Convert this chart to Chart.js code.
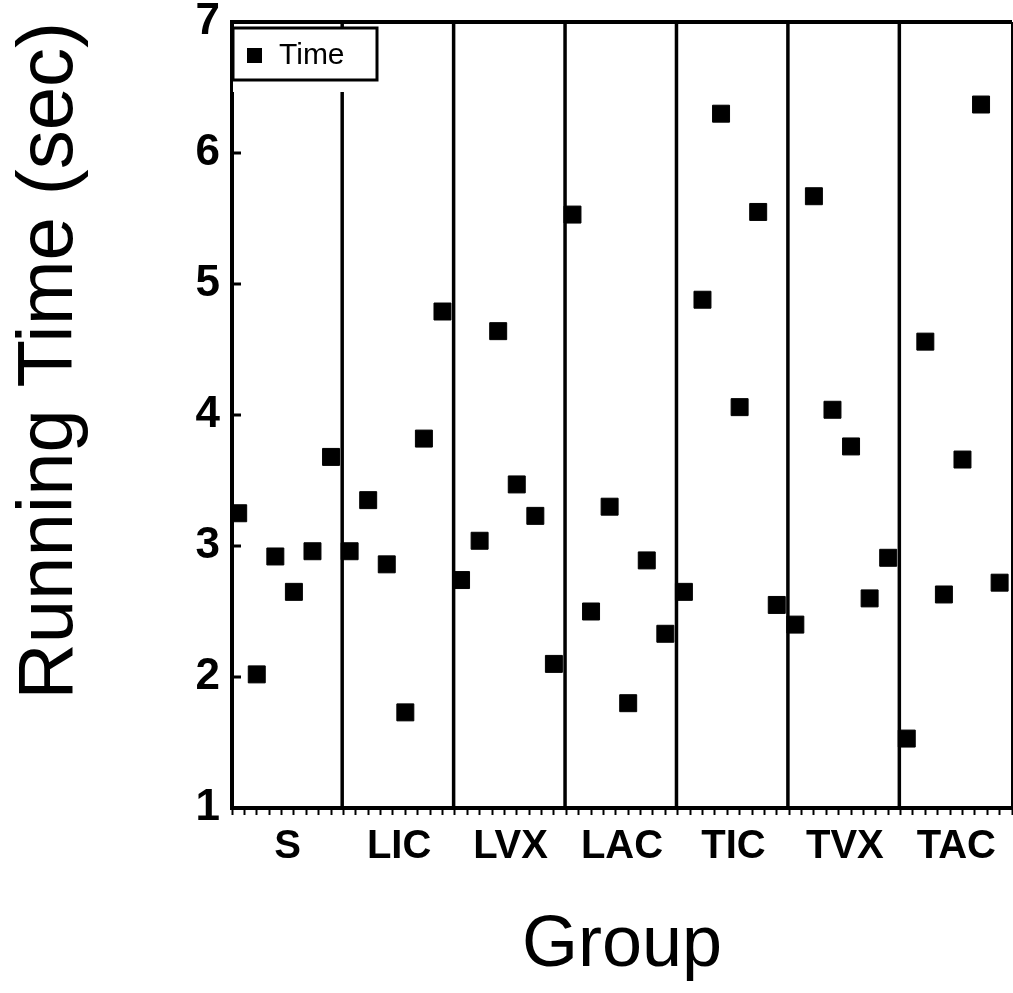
<!DOCTYPE html>
<html>
<head>
<meta charset="utf-8">
<script src="https://cdn.jsdelivr.net/npm/chart.js@4"></script>
<style>
  body { margin: 0; background: #fff; }
</style>
</head>
<body>
<canvas id="myChart" width="1013" height="993"></canvas>
<script>
const groups = ['S', 'LIC', 'LVX', 'LAC', 'TIC', 'TVX', 'TAC'];

// running time (sec) for each animal, by group
const timeS   = [3.25, 2.02, 2.92, 2.65, 2.96, 3.68];
const timeLIC = [2.96, 3.35, 2.86, 1.73, 3.82, 4.79];
const timeLVX = [2.74, 3.04, 4.64, 3.47, 3.23, 2.10];
const timeLAC = [5.53, 2.50, 3.30, 1.80, 2.89, 2.33];
const timeTIC = [2.65, 4.88, 6.30, 4.06, 5.55, 2.55];
const timeTVX = [2.40, 5.67, 4.04, 3.76, 2.60, 2.91];
const timeTAC = [1.53, 4.56, 2.63, 3.66, 6.37, 2.72];

const yTicks = [1, 2, 3, 4, 5, 6, 7];

const allTimes = [timeS, timeLIC, timeLVX, timeLAC, timeTIC, timeTVX, timeTAC];

// each group takes 9 units on the x axis, 6 animals 1.5 apart
const points = [];
allTimes.forEach((arr, g) => {
    arr.forEach((t, i) => points.push({ x: g * 9 + 0.5 + 1.5 * i, y: t }));
});

const labelPos = groups.map((g, i) => i * 9 + 4.5);
const isLabel = v => labelPos.some(p => Math.abs(p - v) < 0.01);

const framePlugin = {
    id: 'frame',
    beforeDatasetsDraw(chart) {
        const { ctx, chartArea: a, scales } = chart;
        ctx.save();
        ctx.strokeStyle = '#000';
        // group dividers
        ctx.lineWidth = 3.5;
        for (let g = 1; g < groups.length; g++) {
            const px = scales.x.getPixelForValue(g * 9 - 0.1);
            ctx.beginPath();
            ctx.moveTo(px, a.top);
            ctx.lineTo(px, a.bottom);
            ctx.stroke();
        }
        // top and right edges
        ctx.lineWidth = 4;
        ctx.beginPath();
        ctx.moveTo(a.left, a.top);
        ctx.lineTo(a.right, a.top);
        ctx.stroke();
        ctx.lineWidth = 2;
        ctx.beginPath();
        ctx.moveTo(a.right, a.top);
        ctx.lineTo(a.right, a.bottom);
        ctx.stroke();
        // inward y ticks
        ctx.lineWidth = 3;
        yTicks.forEach(v => {
            const py = scales.y.getPixelForValue(v);
            ctx.beginPath();
            ctx.moveTo(a.left, py);
            ctx.lineTo(a.left + 9, py);
            ctx.stroke();
        });
        ctx.restore();
    },
    afterDraw(chart) {
        const { ctx, chartArea: a } = chart;
        ctx.save();
        const bx = a.left + 1, by = a.top + 6, bw = 144, bh = 52;
        ctx.fillStyle = '#fff';
        ctx.fillRect(bx, by, bw, bh + 12);
        ctx.strokeStyle = '#000';
        ctx.lineWidth = 3;
        ctx.strokeRect(bx, by, bw, bh);
        ctx.fillStyle = '#000';
        ctx.fillRect(bx + 14, by + 20, 15, 15);
        ctx.font = '30px "Liberation Sans", Arial, sans-serif';
        ctx.textBaseline = 'middle';
        ctx.fillText('Time', bx + 46, by + 28);
        ctx.restore();
    }
};

const data = {
    datasets: [
    {
        label: 'Time',
        data: points,
        backgroundColor: '#000',
        borderColor: '#000',
        pointStyle: 'rect',
        pointRadius: 12,
        showLine: false
    }
]
};

const config = {
    type: 'scatter',
    data: data,
    options: {
        responsive: false,
        animation: false,
        layout: { autoPadding: false, padding: { top: 22, right: 1, left: 0, bottom: 0 } },
        plugins: {
            legend: { display: false },
            tooltip: { enabled: false }
        },
        scales: {
            x: {
                type: 'linear',
                min: 0,
                max: 63,
                afterFit: s => {
                    s.height = 185;
                    s.paddingLeft = 0;
                    s.paddingRight = 0;
                },
                afterBuildTicks: s => {
                    const vals = [];
                    for (let v = 0; v <= 63; v++) vals.push(v);
                    labelPos.forEach(p => vals.push(p));
                    vals.sort((p, q) => p - q);
                    s.ticks = vals.map(v => ({ value: v }));
                },
                ticks: {
                    autoSkip: false,
                    maxRotation: 0,
                    color: '#000',
                    padding: 8,
                    font: { family: '"Liberation Sans", Arial, sans-serif', size: 40, weight: 'bold' },
                    callback: v => {
                        const i = labelPos.findIndex(p => Math.abs(p - v) < 0.01);
                        return i >= 0 ? groups[i] : '';
                    }
                },
                grid: {
                    drawOnChartArea: false,
                    drawTicks: true,
                    tickLength: 7,
                    tickWidth: 2,
                    tickColor: c => (c.tick && isLabel(c.tick.value)) ? 'rgba(0,0,0,0)' : '#000'
                },
                border: { color: '#000', width: 4 },
                title: {
                    display: true,
                    text: 'Group',
                    color: '#000',
                    font: { family: '"Liberation Sans", Arial, sans-serif', size: 72 },
                    padding: { top: 10 }
                }
            },
            y: {
                min: 1,
                max: 7,
                afterFit: s => {
                    s.width = 232;
                    s.paddingTop = 0;
                    s.paddingBottom = 0;
                },
                afterBuildTicks: s => { s.ticks = yTicks.map(v => ({ value: v })); },
                ticks: {
                    color: '#000',
                    padding: 12,
                    font: { family: '"Liberation Sans", Arial, sans-serif', size: 44, weight: 'bold' }
                },
                grid: { drawOnChartArea: false, drawTicks: false },
                border: { color: '#000', width: 4 },
                title: {
                    display: true,
                    text: 'Running Time (sec)',
                    align: 'end',
                    color: '#000',
                    font: { family: '"Liberation Sans", Arial, sans-serif', size: 78 },
                    padding: { top: 4 }
                }
            }
        }
    },
    plugins: [framePlugin]
};

const myChart = new Chart(
    document.getElementById('myChart'),
    config
);
</script>
</body>
</html>
